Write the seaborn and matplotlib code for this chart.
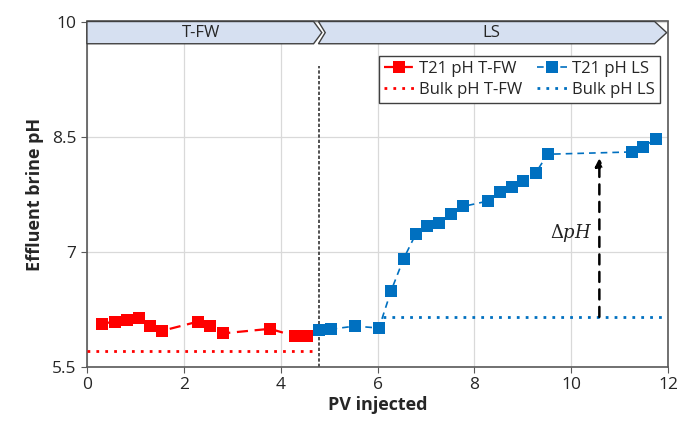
import matplotlib
matplotlib.use("Agg")
import matplotlib.pyplot as plt
from matplotlib.patches import Polygon
import seaborn as sns
import pandas as pd

# ---- data ----
tfw_x = [0.32, 0.57, 0.82, 1.07, 1.31, 1.56, 2.30, 2.55, 2.80, 3.78, 4.29, 4.54]
tfw_y = [6.06, 6.09, 6.11, 6.13, 6.03, 5.97, 6.09, 6.035, 5.935, 5.995, 5.90, 5.90]
ls_x = [4.79, 5.04, 5.53, 6.03, 6.28, 6.54, 6.79, 7.03, 7.27, 7.52, 7.77, 8.28,
        8.53, 8.77, 9.01, 9.27, 9.51, 11.25, 11.49, 11.75]
ls_y = [5.98, 5.99, 6.03, 6.005, 6.49, 6.91, 7.23, 7.335, 7.37, 7.49, 7.59, 7.66,
        7.78, 7.84, 7.92, 8.03, 8.27, 8.30, 8.37, 8.47]
bulk_tfw_x = [0.0, 4.72]
bulk_tfw_y = [5.70, 5.70]
bulk_ls_x = [6.12, 12.0]
bulk_ls_y = [6.148, 6.148]
switch_x = 4.80
switch_top = 9.42
arrow_x = 10.58
arrow_y0 = 6.15
arrow_y1 = 8.22
xticks = [0, 2, 4, 6, 8, 10, 12]
yticks = [5.5, 7, 8.5, 10]

sns.set_style("white")
plt.rcParams['font.family'] = ['Open Sans', 'DejaVu Sans']

fig = plt.figure(figsize=(6.79, 4.30), dpi=100)
ax = fig.add_axes([0.128, 0.147, 0.856, 0.803])

red = "#FF0000"
blue = "#0070C0"

sns.lineplot(x=tfw_x, y=tfw_y, ax=ax, color=red, marker="s", markersize=8.5,
             markeredgewidth=0, linestyle=(0, (5, 3)), linewidth=1.6,
             label="T21 pH T-FW", sort=False, zorder=4)
sns.lineplot(x=bulk_tfw_x, y=bulk_tfw_y, ax=ax, color=red, linestyle=(0, (1, 2.2)),
             linewidth=2.0, label="Bulk pH T-FW", zorder=3)
sns.lineplot(x=ls_x, y=ls_y, ax=ax, color=blue, marker="s", markersize=8.5,
             markeredgewidth=0, linestyle=(0, (4, 3)), linewidth=1.2,
             label="T21 pH LS", sort=False, zorder=4)
sns.lineplot(x=bulk_ls_x, y=bulk_ls_y, ax=ax, color=blue, linestyle=(0, (1, 2.2)),
             linewidth=2.0, label="Bulk pH LS", zorder=3)

# vertical switch line
ax.plot([switch_x, switch_x], [5.5, switch_top], color="#333333",
        linestyle=(0, (2, 1.2)), linewidth=1.2, zorder=2)

# delta pH arrow
ax.annotate("", xy=(arrow_x, arrow_y1), xytext=(arrow_x, arrow_y0),
            arrowprops=dict(arrowstyle="-|>", color="black", lw=1.8,
                            linestyle=(0, (4, 3)), mutation_scale=12,
                            shrinkA=0, shrinkB=0), zorder=5)
ax.text(10.0, 7.24, r"$\Delta pH$", fontsize=13, ha="center", va="center",
        color="#222222", math_fontfamily="dejavuserif")

# banners
y0, y1 = 9.71, 10.0
ym = (y0 + y1) / 2
fc = "#D6E0F1"
ec = "#404040"
p1 = Polygon([(0, y0), (4.68, y0), (4.85, ym), (4.68, y1), (0, y1)],
             closed=True, facecolor=fc, edgecolor=ec, lw=1.0, zorder=6,
             clip_on=False)
p2 = Polygon([(4.78, y0), (11.72, y0), (11.97, ym), (11.72, y1), (4.78, y1),
              (4.92, ym)], closed=True, facecolor=fc, edgecolor=ec, lw=1.0,
             zorder=6, clip_on=False)
ax.add_patch(p2)
ax.add_patch(p1)
ax.text(2.35, ym, "T-FW", ha="center", va="center", fontsize=12, zorder=7)
ax.text(8.35, ym, "LS", ha="center", va="center", fontsize=12, zorder=7)

ax.set_xlim(0, 12)
ax.set_ylim(5.5, 10)
ax.set_xticks(xticks)
ax.set_yticks(yticks)
ax.set_yticklabels(["5.5", "7", "8.5", "10"])
ax.grid(True, color="#D9D9D9", linewidth=0.9)
ax.set_axisbelow(True)
for s in ax.spines.values():
    s.set_color("#595959")
    s.set_linewidth(1.2)
ax.tick_params(axis="both", labelsize=12.5, length=4, color="#595959",
               direction="out", left=True, bottom=True)
ax.set_xlabel("PV injected", fontsize=13, fontweight="bold", labelpad=2)
ax.set_ylabel("Effluent brine pH", fontsize=13, fontweight="bold", labelpad=6)

h, l = ax.get_legend_handles_labels()
order = [l.index("T21 pH T-FW"), l.index("Bulk pH T-FW"),
         l.index("T21 pH LS"), l.index("Bulk pH LS")]
leg = ax.legend([h[i] for i in order], [l[i] for i in order], ncol=2,
                loc="upper right", bbox_to_anchor=(1.0, 0.925), fontsize=12,
                frameon=True, fancybox=False, framealpha=1, edgecolor="#404040",
                handlelength=1.8, handletextpad=0.3, columnspacing=0.9,
                borderpad=0.3, labelspacing=0.3)
leg.get_frame().set_linewidth(1.0)

fig.savefig("out.png", dpi=100)
